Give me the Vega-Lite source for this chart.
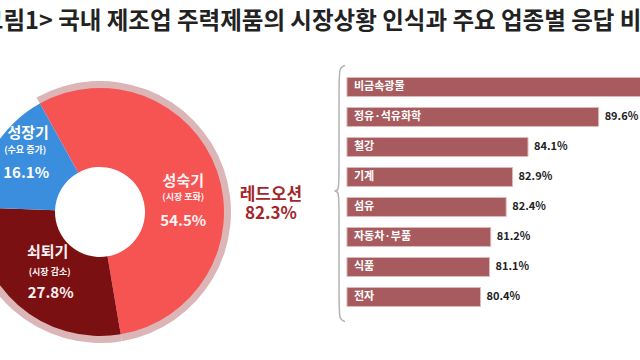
{
  "$schema": "https://vega.github.io/schema/vega-lite/v6.json",
  "background": "white",
  "padding": {"top": 9, "left": -32, "right": 0, "bottom": 0},
  "bounds": "flush",
  "spacing": 121,
  "config": {"view": {"stroke": null}, "font": "Noto Sans CJK KR"},
  "title": {
    "text": "<그림1> 국내 제조업 주력제품의 시장상황 인식과 주요 업종별 응답 비중",
    "anchor": "start", "frame": "group", "dx": -33, "offset": 29,
    "fontSize": 23.5, "fontWeight": "bold", "color": "#222222", "font": "Noto Sans CJK KR"
  },
  "hconcat": [
    {
      "width": 198, "height": 286,
      "data": {"values": [
        {"name": "성숙기", "sub": "(시장 포화)", "pct": "54.5%", "v": 54.5, "idx": 0},
        {"name": "쇠퇴기", "sub": "(시장 감소)", "pct": "27.8%", "v": 27.8, "idx": 1},
        {"name": "성장기", "sub": "(수요 증가)", "pct": "16.1%", "v": 16.1, "idx": 2}
      ]},
      "encoding": {
        "theta": {"field": "v", "type": "quantitative", "stack": true, "scale": {"range": [-0.506, 5.777]}},
        "order": {"field": "idx", "type": "quantitative"},
        "detail": {"field": "name", "type": "nominal"}
      },
      "layer": [
        {"mark": {"type": "arc", "outerRadius": 131, "innerRadius": 118},
         "encoding": {"color": {"condition": {"test": "datum.name === '성장기'", "value": "rgba(255,255,255,0)"}, "value": "#dcb5b7"}}},
        {"mark": {"type": "arc", "outerRadius": 124, "innerRadius": 45},
         "encoding": {"color": {"field": "name", "type": "nominal", "scale": {"domain": ["성숙기", "쇠퇴기", "성장기"], "range": ["#f65353", "#7a1012", "#3b8ddd"]}, "legend": null}}},
        {"mark": {"type": "text", "radius": 84, "dx": 4, "dy": -3, "fontSize": 15, "fontWeight": "bold", "color": "#fff2f2", "baseline": "middle"},
         "encoding": {"text": {"condition": {"test": "datum.name === '성숙기'", "field": "name", "type": "nominal"}, "value": ""}}},
        {"mark": {"type": "text", "radius": 84, "dx": 4, "dy": 13, "fontSize": 9, "fontWeight": "bold", "color": "#fff2f2", "baseline": "middle"},
         "encoding": {"text": {"condition": {"test": "datum.name === '성숙기'", "field": "sub", "type": "nominal"}, "value": ""}}},
        {"mark": {"type": "text", "radius": 84, "dx": 4, "dy": 37, "fontSize": 15, "fontWeight": "bold", "color": "#fff2f2", "baseline": "middle"},
         "encoding": {"text": {"condition": {"test": "datum.name === '성숙기'", "field": "pct", "type": "nominal"}, "value": ""}}},
        {"mark": {"type": "text", "radius": 90, "dx": 7, "dy": -28, "fontSize": 15, "fontWeight": "bold", "color": "#fff2f2", "baseline": "middle"},
         "encoding": {"text": {"condition": {"test": "datum.name === '쇠퇴기'", "field": "name", "type": "nominal"}, "value": ""}}},
        {"mark": {"type": "text", "radius": 90, "dx": 9, "dy": -8, "fontSize": 9, "fontWeight": "bold", "color": "#fff2f2", "baseline": "middle"},
         "encoding": {"text": {"condition": {"test": "datum.name === '쇠퇴기'", "field": "sub", "type": "nominal"}, "value": ""}}},
        {"mark": {"type": "text", "radius": 90, "dx": 10, "dy": 13, "fontSize": 15, "fontWeight": "bold", "color": "#fff2f2", "baseline": "middle"},
         "encoding": {"text": {"condition": {"test": "datum.name === '쇠퇴기'", "field": "pct", "type": "nominal"}, "value": ""}}},
        {"mark": {"type": "text", "radius": 89, "dx": 4, "dy": -32, "fontSize": 15, "fontWeight": "bold", "color": "#ffffff", "baseline": "middle"},
         "encoding": {"text": {"condition": {"test": "datum.name === '성장기'", "field": "name", "type": "nominal"}, "value": ""}}},
        {"mark": {"type": "text", "radius": 89, "dx": 1, "dy": -15, "fontSize": 9, "fontWeight": "bold", "color": "#ffffff", "baseline": "middle"},
         "encoding": {"text": {"condition": {"test": "datum.name === '성장기'", "field": "sub", "type": "nominal"}, "value": ""}}},
        {"mark": {"type": "text", "radius": 89, "dx": 2, "dy": 8, "fontSize": 15, "fontWeight": "bold", "color": "#ffffff", "baseline": "middle"},
         "encoding": {"text": {"condition": {"test": "datum.name === '성장기'", "field": "pct", "type": "nominal"}, "value": ""}}}
      ]
    },
    {
      "width": 321, "height": 260,
      "layer": [
        {
          "data": {"values": [
            {"i": 0, "bx": 69.85, "by": -0.12},
            {"i": 1, "bx": 69.4, "by": -0.05},
            {"i": 2, "bx": 69.38, "by": 0.4},
            {"i": 3, "bx": 69.38, "by": 3.7},
            {"i": 4, "bx": 69.38, "by": 4.07},
            {"i": 5, "bx": 68.85, "by": 4.07},
            {"i": 6, "bx": 69.38, "by": 4.07},
            {"i": 7, "bx": 69.38, "by": 4.45},
            {"i": 8, "bx": 69.38, "by": 7.9},
            {"i": 9, "bx": 69.4, "by": 8.35},
            {"i": 10, "bx": 69.85, "by": 8.42}
          ]},
          "layer": [
            {"mark": {"type": "line", "interpolate": "basis", "color": "#b3b3b3", "strokeWidth": 1.5},
             "encoding": {
               "x": {"field": "bx", "type": "quantitative", "scale": {"domain": [67.9, 92.9], "nice": false, "zero": false}, "axis": null},
               "y": {"field": "by", "type": "quantitative", "scale": {"domain": [0, 8.667], "reverse": true, "nice": false, "zero": false}, "axis": null},
               "order": {"field": "i", "type": "quantitative"}
             }},
            {"data": {"values": [{"t": "레드오션"}]},
             "mark": {"type": "text", "text": ["레드오션", "82.3%"], "fontSize": 17, "fontWeight": "bold", "color": "#a3262b", "align": "center", "baseline": "middle", "lineHeight": 19},
             "encoding": {
               "x": {"datum": 64.08, "type": "quantitative"},
               "y": {"datum": 4.2, "type": "quantitative"}
             }}
          ]
        },
        {
          "data": {"values": [
            {"cat": "비금속광물", "v": 93.8, "lab": "93.8%"},
            {"cat": "정유·석유화학", "v": 89.6, "lab": "89.6%"},
            {"cat": "철강", "v": 84.1, "lab": "84.1%"},
            {"cat": "기계", "v": 82.9, "lab": "82.9%"},
            {"cat": "섬유", "v": 82.4, "lab": "82.4%"},
            {"cat": "자동차·부품", "v": 81.2, "lab": "81.2%"},
            {"cat": "식품", "v": 81.1, "lab": "81.1%"},
            {"cat": "전자", "v": 80.4, "lab": "80.4%"}
          ]},
          "encoding": {
            "y": {"field": "cat", "type": "nominal", "sort": null, "axis": null, "scale": {"paddingInner": 0.367, "paddingOuter": 0.517, "align": 0.274}}
          },
          "layer": [
            {"mark": {"type": "bar", "color": "#a85b5e", "stroke": "#ddbabb", "strokeWidth": 1},
             "encoding": {"x": {"field": "v", "type": "quantitative"}, "x2": {"datum": 70}}},
            {"mark": {"type": "text", "align": "left", "baseline": "middle", "dx": 7, "fontSize": 11, "fontWeight": "bold", "color": "#ffffff"},
             "encoding": {"x": {"datum": 70, "type": "quantitative"}, "text": {"field": "cat"}}},
            {"mark": {"type": "text", "align": "left", "baseline": "middle", "dx": 6, "fontSize": 11, "fontWeight": "bold", "color": "#222222"},
             "encoding": {"x": {"field": "v", "type": "quantitative"}, "text": {"field": "lab"}}}
          ]
        }
      ],
      "resolve": {"scale": {"y": "independent"}}
    }
  ]
}
